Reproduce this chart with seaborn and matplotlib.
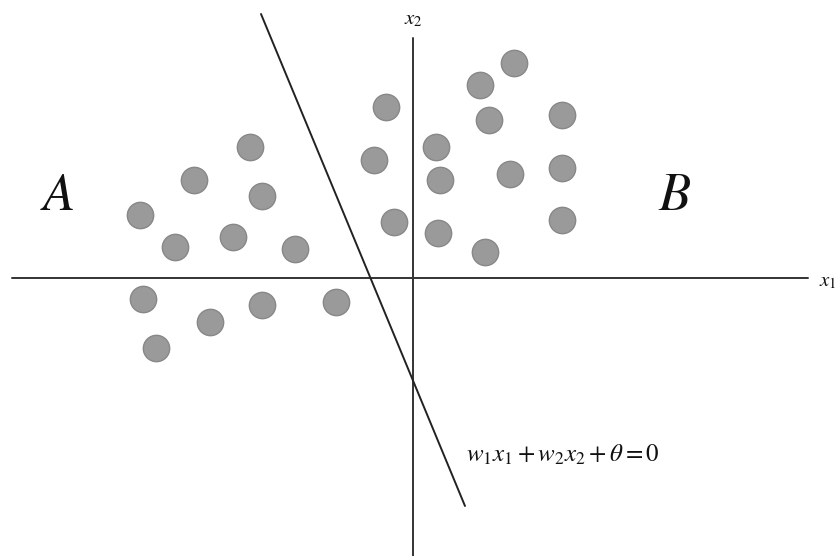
import matplotlib
matplotlib.use("Agg")
import matplotlib.pyplot as plt
import seaborn as sns
import pandas as pd

sns.set_theme(style="white")
plt.rcParams["mathtext.fontset"] = "stix"
plt.rcParams["font.family"] = ["Liberation Serif", "DejaVu Serif"]

# Class A points (left of the separating line)
a_x = [-163, -219, -151, -273, -238, -180, -118, -270, -203, -151, -77, -257]
a_y = [131, 98, 82, 63, 31, 41, 29, -21, -44, -27, -24, -70]
# Class B points (right of the separating line)
b_x = [101, 67, -27, 76, 149, -39, 23, 27, 97, 149, -19, 25, 72, 149]
b_y = [215, 193, 171, 158, 163, 118, 131, 98, 104, 110, 56, 45, 26, 58]

# separating line endpoints: w1*x1 + w2*x2 + theta = 0
line_x = [-152, 52]
line_y = [264, -228]

df = pd.DataFrame({"x1": a_x + b_x, "x2": a_y + b_y,
                   "cls": ["A"] * len(a_x) + ["B"] * len(b_x)})

fig = plt.figure(figsize=(8.38, 5.56), dpi=100)
ax = fig.add_axes([0, 0, 1, 1])
ax.set_xlim(-413, 425)
ax.set_ylim(-278, 278)
ax.axis("off")

# coordinate axes
ax.plot([-401, 395], [0, 0], color="#333333", lw=1.4)
ax.plot([0, 0], [240, -278], color="#333333", lw=1.4)

sns.lineplot(x=line_x, y=line_y, ax=ax, color="#222222", lw=1.4, sort=False)

sns.scatterplot(data=df, x="x1", y="x2", ax=ax, s=360, color="#9a9a9a",
                edgecolor="#888888", linewidth=1.0, legend=False, zorder=3)

ax.text(0, 258, r"$x_2$", fontsize=15, ha="center", va="center", color="#111111")
ax.text(415, -4, r"$x_1$", fontsize=15, ha="center", va="center", color="#111111")
ax.text(-356, 81, r"$A$", fontsize=38, ha="center", va="center", color="#111111")
ax.text(262, 81, r"$B$", fontsize=38, ha="center", va="center", color="#111111")
ax.text(150, -177, r"$w_1x_1+w_2x_2+\theta=0$", fontsize=18, ha="center",
        va="center", color="#111111")

fig.savefig("out.png", dpi=100)
